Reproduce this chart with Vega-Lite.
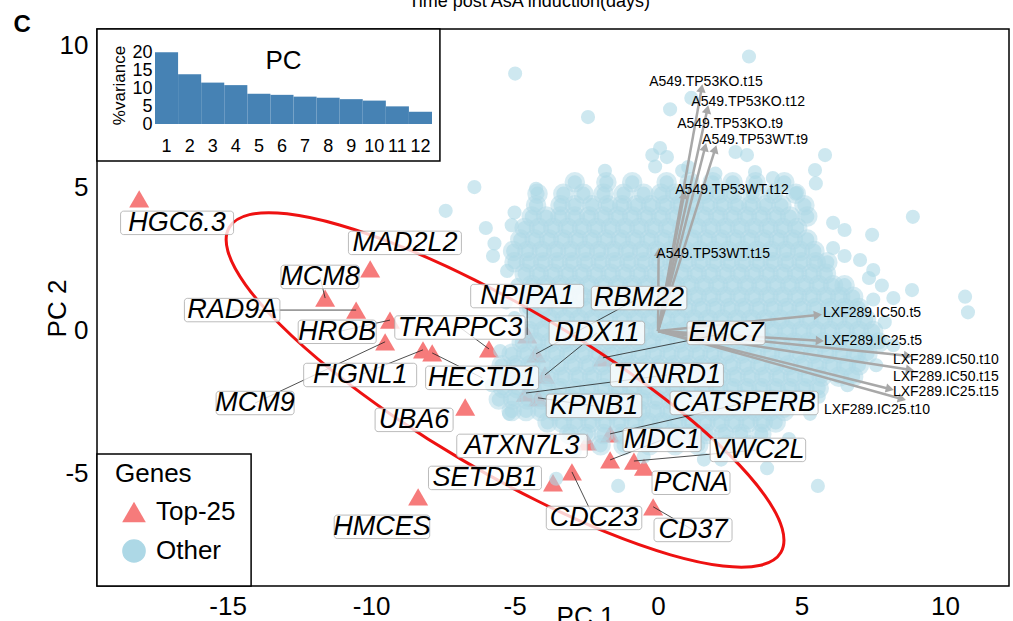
{
"$schema":"https://vega.github.io/schema/vega-lite/v6.json",
"width":912,"height":557,
"autosize":{"type":"none"},
"padding":{"left":97,"top":29,"right":4,"bottom":35},
"background":"white",
"config":{"font":"Liberation Sans","view":{"stroke":"black","strokeWidth":1.5},"axis":{"grid":false,"labelColor":"black","titleColor":"black","titleFontWeight":"normal"}},
"datasets":{
"genes":[
{"gene":"HGC6.3","group":"Top-25","x":-18.08,"y":4.62,"lx":-16.76,"ly":3.78},
{"gene":"MAD2L2","group":"Top-25","x":-10.03,"y":2.17,"lx":-8.82,"ly":3.08},
{"gene":"MCM8","group":"Top-25","x":-11.6,"y":1.15,"lx":-11.78,"ly":1.89},
{"gene":"RAD9A","group":"Top-25","x":-10.52,"y":0.73,"lx":-14.84,"ly":0.73},
{"gene":"HROB","group":"Top-25","x":-9.34,"y":0.38,"lx":-11.18,"ly":-0.03},
{"gene":"MCM9","group":"Top-25","x":-9.51,"y":-0.38,"lx":-14.04,"ly":-2.52},
{"gene":"FIGNL1","group":"Top-25","x":-8.19,"y":-0.66,"lx":-10.38,"ly":-1.54},
{"gene":"HECTD1","group":"Top-25","x":-7.87,"y":-0.77,"lx":-6.13,"ly":-1.64},
{"gene":"TRAPPC3","group":"Top-25","x":-5.89,"y":-0.63,"lx":-6.9,"ly":0.12},
{"gene":"NPIPA1","group":"Top-25","x":-4.56,"y":-0.14,"lx":-4.56,"ly":1.22},
{"gene":"UBA6","group":"Top-25","x":-6.72,"y":-2.66,"lx":-8.5,"ly":-3.11},
{"gene":"EMC7","group":"Top-25","x":-1.92,"y":-0.94,"lx":2.37,"ly":-0.07},
{"gene":"TXNRD1","group":"Top-25","x":-4.6,"y":-2.17,"lx":0.31,"ly":-1.54},
{"gene":"KPNB1","group":"Top-25","x":-4.18,"y":-2.34,"lx":-2.23,"ly":-2.62},
{"gene":"RBM22","group":"Top-25","x":-4.25,"y":-0.8,"lx":-0.66,"ly":1.15},
{"gene":"DDX11","group":"Top-25","x":-3.94,"y":-1.54,"lx":-2.13,"ly":-0.07},
{"gene":"CATSPERB","group":"Top-25","x":-1.67,"y":-3.6,"lx":3.0,"ly":-2.52},
{"gene":"MDC1","group":"Top-25","x":-1.67,"y":-4.51,"lx":0.14,"ly":-3.81},
{"gene":"ATXN7L3","group":"Top-25","x":-2.47,"y":-3.88,"lx":-4.74,"ly":-4.02},
{"gene":"VWC2L","group":"Top-25","x":-0.84,"y":-4.55,"lx":3.48,"ly":-4.16},
{"gene":"PCNA","group":"Top-25","x":-0.49,"y":-4.76,"lx":1.15,"ly":-5.31},
{"gene":"CDC23","group":"Top-25","x":-3.0,"y":-4.93,"lx":-2.23,"ly":-6.54},
{"gene":"SETDB1","group":"Top-25","x":-3.66,"y":-5.31,"lx":-6.03,"ly":-5.14},
{"gene":"CD37","group":"Top-25","x":-0.17,"y":-6.15,"lx":1.22,"ly":-6.96},
{"gene":"HMCES","group":"Top-25","x":-8.36,"y":-5.8,"lx":-9.62,"ly":-6.85}
],
"arrows":[
{"v":"A549.TP53KO.t15","x":1.52,"y":8.49,"lx":1.67,"ly":8.71},
{"v":"A549.TP53KO.t12","x":1.72,"y":7.75,"lx":3.14,"ly":8.01},
{"v":"A549.TP53KO.t9","x":1.64,"y":6.43,"lx":2.51,"ly":7.24},
{"v":"A549.TP53WT.t9","x":1.99,"y":6.36,"lx":3.38,"ly":6.68},
{"v":"A549.TP53WT.t12","x":0.91,"y":4.76,"lx":2.58,"ly":4.93},
{"v":"A549.TP53WT.t15","x":0.02,"y":2.76,"lx":1.92,"ly":2.69},
{"v":"LXF289.IC50.t5","x":5.57,"y":0.56,"lx":7.46,"ly":0.63},
{"v":"LXF289.IC25.t5","x":5.64,"y":-0.34,"lx":7.49,"ly":-0.35},
{"v":"LXF289.IC50.t10","x":8.71,"y":-0.87,"lx":10.03,"ly":-1.01},
{"v":"LXF289.IC50.t15","x":8.78,"y":-1.36,"lx":10.03,"ly":-1.61},
{"v":"LXF289.IC25.t15","x":8.08,"y":-2.03,"lx":10.03,"ly":-2.13},
{"v":"LXF289.IC25.t10","x":8.5,"y":-2.38,"lx":7.63,"ly":-2.76}
],
"ellipse":[
{"t":0,"x":4.279,"y":-7.748},{"t":15,"x":3.575,"y":-8.194},{"t":30,"x":2.264,"y":-8.222},{"t":45,"x":0.437,"y":-7.831},
{"t":60,"x":-1.784,"y":-7.047},{"t":75,"x":-4.247,"y":-5.922},{"t":90,"x":-6.784,"y":-4.535},{"t":105,"x":-9.221,"y":-2.98},
{"t":120,"x":-11.394,"y":-1.361},{"t":135,"x":-13.153,"y":0.209},{"t":150,"x":-14.38,"y":1.624},{"t":165,"x":-14.989,"y":2.788},
{"t":180,"x":-14.941,"y":3.622},{"t":195,"x":-14.237,"y":4.068},{"t":210,"x":-12.926,"y":4.096},{"t":225,"x":-11.099,"y":3.705},
{"t":240,"x":-8.878,"y":2.921},{"t":255,"x":-6.415,"y":1.796},{"t":270,"x":-3.878,"y":0.409},{"t":285,"x":-1.441,"y":-1.146},
{"t":300,"x":0.732,"y":-2.765},{"t":315,"x":2.491,"y":-4.335},{"t":330,"x":3.718,"y":-5.75},{"t":345,"x":4.327,"y":-6.914}
],
"scree":[
{"pc":1,"var":19.9},{"pc":2,"var":13.8},{"pc":3,"var":11.5},{"pc":4,"var":10.8},{"pc":5,"var":8.4},{"pc":6,"var":8.1},
{"pc":7,"var":7.6},{"pc":8,"var":7.3},{"pc":9,"var":6.9},{"pc":10,"var":6.5},{"pc":11,"var":4.9},{"pc":12,"var":3.4}
],
"outer":[
{"x":3.17,"y":9.6},{"x":-4.98,"y":9.0},{"x":-2.44,"y":7.48},{"x":0.42,"y":7.75},{"x":1.16,"y":8.15},{"x":-0.2,"y":6.15},{"x":0.07,"y":6.4},{"x":0.31,"y":6.08},{"x":-0.1,"y":5.75},{"x":1.05,"y":5.73},{"x":3.1,"y":6.15},{"x":3.38,"y":5.56},{"x":4.0,"y":5.35},{"x":5.47,"y":5.63},{"x":5.82,"y":6.15},{"x":2.0,"y":5.5},{"x":2.7,"y":6.26},{"x":0.84,"y":5.6},{"x":-1.85,"y":5.6},{"x":-6.4,"y":5.03},{"x":4.84,"y":4.83},{"x":5.5,"y":5.16},{"x":6.1,"y":3.78},{"x":6.5,"y":3.53},{"x":7.46,"y":3.36},{"x":8.88,"y":3.99},{"x":6.1,"y":2.9},{"x":6.5,"y":2.62},{"x":7.04,"y":2.48},{"x":7.5,"y":2.13},{"x":7.35,"y":1.85},{"x":7.8,"y":1.59},{"x":7.5,"y":1.1},{"x":8.2,"y":1.15},{"x":8.85,"y":1.43},{"x":10.7,"y":1.2},{"x":10.8,"y":0.65},{"x":7.9,"y":0.3},{"x":8.2,"y":-0.5},{"x":7.6,"y":-1.2},{"x":6.6,"y":-1.9},{"x":5.6,"y":-2.3},{"x":5.3,"y":-2.9},{"x":4.56,"y":-3.78},{"x":5.57,"y":-5.42},{"x":3.8,"y":-4.8},{"x":4.2,"y":-4.2},{"x":-1.39,"y":-5.42},{"x":-3.55,"y":-5.17},{"x":-5.19,"y":-2.9},{"x":-7.4,"y":4.2},{"x":-5.0,"y":4.14},{"x":-5.7,"y":3.06},{"x":-5.75,"y":2.62},{"x":-5.26,"y":2.1},{"x":-4.9,"y":1.6},{"x":-5.3,"y":1.0},{"x":-5.0,"y":0.45},{"x":-6.0,"y":3.6},{"x":-5.1,"y":3.7},{"x":-4.25,"y":4.97},{"x":1.6,"y":-4.5},{"x":-0.5,"y":-4.4},{"x":2.2,"y":-4.5},{"x":2.9,"y":-4.1},{"x":-2.9,"y":-4.2},{"x":-5.8,"y":-1.9},{"x":-5.5,"y":-0.7}
],
"core":[
{"x":-2.9,"y":5.2},{"x":-1.8,"y":5.2},{"x":-0.9,"y":5.2},{"x":0.3,"y":5.2},{"x":1.1,"y":5.2},{"x":1.9,"y":5.2},{"x":2.6,"y":5.2},{"x":3.4,"y":5.2},{"x":4.4,"y":5.2},
{"x":-4.2,"y":4.8},{"x":-3.3,"y":4.8},{"x":-2.6,"y":4.8},{"x":-1.9,"y":4.8},{"x":-1.2,"y":4.8},{"x":-0.5,"y":4.8},{"x":0.1,"y":4.8},{"x":0.6,"y":4.8},{"x":1.1,"y":4.8},{"x":1.6,"y":4.8},{"x":2.1,"y":4.8},{"x":2.6,"y":4.8},{"x":3.3,"y":4.8},{"x":4.0,"y":4.8},{"x":4.8,"y":4.8},
{"x":-4.25,"y":4.4},{"x":-3.4,"y":4.4},{"x":-2.9,"y":4.4},{"x":-2.3,"y":4.4},{"x":-1.75,"y":4.4},{"x":-1.25,"y":4.4},{"x":-0.75,"y":4.4},{"x":-0.25,"y":4.4},{"x":0.25,"y":4.4},{"x":0.75,"y":4.4},{"x":1.25,"y":4.4},{"x":1.75,"y":4.4},{"x":2.25,"y":4.4},{"x":2.75,"y":4.4},{"x":3.25,"y":4.4},{"x":3.75,"y":4.4},{"x":4.3,"y":4.4},{"x":5.1,"y":4.4},
{"x":-4.4,"y":4.0},{"x":-3.9,"y":4.0},{"x":-3.4,"y":4.0},{"x":-2.9,"y":4.0},{"x":-2.4,"y":4.0},{"x":-1.9,"y":4.0},{"x":-1.4,"y":4.0},{"x":-0.9,"y":4.0},{"x":-0.4,"y":4.0},{"x":0.1,"y":4.0},{"x":0.6,"y":4.0},{"x":1.1,"y":4.0},{"x":1.6,"y":4.0},{"x":2.1,"y":4.0},{"x":2.6,"y":4.0},{"x":3.1,"y":4.0},{"x":3.6,"y":4.0},{"x":4.1,"y":4.0},{"x":4.6,"y":4.0},{"x":5.2,"y":4.0},
{"x":-4.65,"y":3.6},{"x":-4.15,"y":3.6},{"x":-3.65,"y":3.6},{"x":-3.15,"y":3.6},{"x":-2.65,"y":3.6},{"x":-2.15,"y":3.6},{"x":-1.65,"y":3.6},{"x":-1.15,"y":3.6},{"x":-0.65,"y":3.6},{"x":-0.15,"y":3.6},{"x":0.35,"y":3.6},{"x":0.85,"y":3.6},{"x":1.35,"y":3.6},{"x":1.85,"y":3.6},{"x":2.35,"y":3.6},{"x":2.85,"y":3.6},{"x":3.35,"y":3.6},{"x":3.85,"y":3.6},{"x":4.35,"y":3.6},{"x":4.85,"y":3.6},
{"x":-4.8,"y":3.2},{"x":-4.3,"y":3.2},{"x":-3.8,"y":3.2},{"x":-3.3,"y":3.2},{"x":-2.8,"y":3.2},{"x":-2.3,"y":3.2},{"x":-1.8,"y":3.2},{"x":-1.3,"y":3.2},{"x":-0.8,"y":3.2},{"x":-0.3,"y":3.2},{"x":0.2,"y":3.2},{"x":0.7,"y":3.2},{"x":1.2,"y":3.2},{"x":1.7,"y":3.2},{"x":2.2,"y":3.2},{"x":2.7,"y":3.2},{"x":3.2,"y":3.2},{"x":3.7,"y":3.2},{"x":4.2,"y":3.2},{"x":4.7,"y":3.2},{"x":5.2,"y":3.2},
{"x":-5.05,"y":2.8},{"x":-4.55,"y":2.8},{"x":-4.05,"y":2.8},{"x":-3.55,"y":2.8},{"x":-3.05,"y":2.8},{"x":-2.55,"y":2.8},{"x":-2.05,"y":2.8},{"x":-1.55,"y":2.8},{"x":-1.05,"y":2.8},{"x":-0.55,"y":2.8},{"x":-0.05,"y":2.8},{"x":0.45,"y":2.8},{"x":0.95,"y":2.8},{"x":1.45,"y":2.8},{"x":1.95,"y":2.8},{"x":2.45,"y":2.8},{"x":2.95,"y":2.8},{"x":3.45,"y":2.8},{"x":3.95,"y":2.8},{"x":4.45,"y":2.8},{"x":4.95,"y":2.8},{"x":5.45,"y":2.8},
{"x":-5.0,"y":2.4},{"x":-4.5,"y":2.4},{"x":-4.0,"y":2.4},{"x":-3.5,"y":2.4},{"x":-3.0,"y":2.4},{"x":-2.5,"y":2.4},{"x":-2.0,"y":2.4},{"x":-1.5,"y":2.4},{"x":-1.0,"y":2.4},{"x":-0.5,"y":2.4},{"x":0.0,"y":2.4},{"x":0.5,"y":2.4},{"x":1.0,"y":2.4},{"x":1.5,"y":2.4},{"x":2.0,"y":2.4},{"x":2.5,"y":2.4},{"x":3.0,"y":2.4},{"x":3.5,"y":2.4},{"x":4.0,"y":2.4},{"x":4.5,"y":2.4},{"x":5.0,"y":2.4},{"x":5.5,"y":2.4},{"x":5.9,"y":2.4},
{"x":-4.65,"y":2.0},{"x":-4.15,"y":2.0},{"x":-3.65,"y":2.0},{"x":-3.15,"y":2.0},{"x":-2.65,"y":2.0},{"x":-2.15,"y":2.0},{"x":-1.65,"y":2.0},{"x":-1.15,"y":2.0},{"x":-0.65,"y":2.0},{"x":-0.15,"y":2.0},{"x":0.35,"y":2.0},{"x":0.85,"y":2.0},{"x":1.35,"y":2.0},{"x":1.85,"y":2.0},{"x":2.35,"y":2.0},{"x":2.85,"y":2.0},{"x":3.35,"y":2.0},{"x":3.85,"y":2.0},{"x":4.35,"y":2.0},{"x":4.85,"y":2.0},{"x":5.35,"y":2.0},{"x":5.85,"y":2.0},
{"x":-4.4,"y":1.6},{"x":-3.9,"y":1.6},{"x":-3.4,"y":1.6},{"x":-2.9,"y":1.6},{"x":-2.4,"y":1.6},{"x":-1.9,"y":1.6},{"x":-1.4,"y":1.6},{"x":-0.9,"y":1.6},{"x":-0.4,"y":1.6},{"x":0.1,"y":1.6},{"x":0.6,"y":1.6},{"x":1.1,"y":1.6},{"x":1.6,"y":1.6},{"x":2.1,"y":1.6},{"x":2.6,"y":1.6},{"x":3.1,"y":1.6},{"x":3.6,"y":1.6},{"x":4.1,"y":1.6},{"x":4.6,"y":1.6},{"x":5.1,"y":1.6},{"x":5.6,"y":1.6},{"x":6.1,"y":1.6},{"x":6.5,"y":1.6},
{"x":-4.65,"y":1.2},{"x":-4.15,"y":1.2},{"x":-3.65,"y":1.2},{"x":-3.15,"y":1.2},{"x":-2.65,"y":1.2},{"x":-2.15,"y":1.2},{"x":-1.65,"y":1.2},{"x":-1.15,"y":1.2},{"x":-0.65,"y":1.2},{"x":-0.15,"y":1.2},{"x":0.35,"y":1.2},{"x":0.85,"y":1.2},{"x":1.35,"y":1.2},{"x":1.85,"y":1.2},{"x":2.35,"y":1.2},{"x":2.85,"y":1.2},{"x":3.35,"y":1.2},{"x":3.85,"y":1.2},{"x":4.35,"y":1.2},{"x":4.85,"y":1.2},{"x":5.35,"y":1.2},{"x":5.85,"y":1.2},{"x":6.35,"y":1.2},{"x":6.8,"y":1.2},
{"x":-4.5,"y":0.8},{"x":-4.0,"y":0.8},{"x":-3.5,"y":0.8},{"x":-3.0,"y":0.8},{"x":-2.5,"y":0.8},{"x":-2.0,"y":0.8},{"x":-1.5,"y":0.8},{"x":-1.0,"y":0.8},{"x":-0.5,"y":0.8},{"x":0.0,"y":0.8},{"x":0.5,"y":0.8},{"x":1.0,"y":0.8},{"x":1.5,"y":0.8},{"x":2.0,"y":0.8},{"x":2.5,"y":0.8},{"x":3.0,"y":0.8},{"x":3.5,"y":0.8},{"x":4.0,"y":0.8},{"x":4.5,"y":0.8},{"x":5.0,"y":0.8},{"x":5.5,"y":0.8},{"x":6.0,"y":0.8},{"x":6.5,"y":0.8},{"x":7.0,"y":0.8},
{"x":-4.25,"y":0.4},{"x":-3.75,"y":0.4},{"x":-3.25,"y":0.4},{"x":-2.75,"y":0.4},{"x":-2.25,"y":0.4},{"x":-1.75,"y":0.4},{"x":-1.25,"y":0.4},{"x":-0.75,"y":0.4},{"x":-0.25,"y":0.4},{"x":0.25,"y":0.4},{"x":0.75,"y":0.4},{"x":1.25,"y":0.4},{"x":1.75,"y":0.4},{"x":2.25,"y":0.4},{"x":2.75,"y":0.4},{"x":3.25,"y":0.4},{"x":3.75,"y":0.4},{"x":4.25,"y":0.4},{"x":4.75,"y":0.4},{"x":5.25,"y":0.4},{"x":5.75,"y":0.4},{"x":6.25,"y":0.4},{"x":6.75,"y":0.4},{"x":7.25,"y":0.4},
{"x":-4.5,"y":0.0},{"x":-4.0,"y":0.0},{"x":-3.5,"y":0.0},{"x":-3.0,"y":0.0},{"x":-2.5,"y":0.0},{"x":-2.0,"y":0.0},{"x":-1.5,"y":0.0},{"x":-1.0,"y":0.0},{"x":-0.5,"y":0.0},{"x":0.0,"y":0.0},{"x":0.5,"y":0.0},{"x":1.0,"y":0.0},{"x":1.5,"y":0.0},{"x":2.0,"y":0.0},{"x":2.5,"y":0.0},{"x":3.0,"y":0.0},{"x":3.5,"y":0.0},{"x":4.0,"y":0.0},{"x":4.5,"y":0.0},{"x":5.0,"y":0.0},{"x":5.5,"y":0.0},{"x":6.0,"y":0.0},{"x":6.5,"y":0.0},{"x":7.0,"y":0.0},{"x":7.5,"y":0.0},
{"x":-4.75,"y":-0.4},{"x":-4.25,"y":-0.4},{"x":-3.75,"y":-0.4},{"x":-3.25,"y":-0.4},{"x":-2.75,"y":-0.4},{"x":-2.25,"y":-0.4},{"x":-1.75,"y":-0.4},{"x":-1.25,"y":-0.4},{"x":-0.75,"y":-0.4},{"x":-0.25,"y":-0.4},{"x":0.25,"y":-0.4},{"x":0.75,"y":-0.4},{"x":1.25,"y":-0.4},{"x":1.75,"y":-0.4},{"x":2.25,"y":-0.4},{"x":2.75,"y":-0.4},{"x":3.25,"y":-0.4},{"x":3.75,"y":-0.4},{"x":4.25,"y":-0.4},{"x":4.75,"y":-0.4},{"x":5.25,"y":-0.4},{"x":5.75,"y":-0.4},{"x":6.25,"y":-0.4},{"x":6.75,"y":-0.4},{"x":7.25,"y":-0.4},{"x":7.7,"y":-0.4},
{"x":-5.1,"y":-0.8},{"x":-4.6,"y":-0.8},{"x":-4.1,"y":-0.8},{"x":-3.6,"y":-0.8},{"x":-3.1,"y":-0.8},{"x":-2.6,"y":-0.8},{"x":-2.1,"y":-0.8},{"x":-1.6,"y":-0.8},{"x":-1.1,"y":-0.8},{"x":-0.6,"y":-0.8},{"x":-0.1,"y":-0.8},{"x":0.4,"y":-0.8},{"x":0.9,"y":-0.8},{"x":1.4,"y":-0.8},{"x":1.9,"y":-0.8},{"x":2.4,"y":-0.8},{"x":2.9,"y":-0.8},{"x":3.4,"y":-0.8},{"x":3.9,"y":-0.8},{"x":4.4,"y":-0.8},{"x":4.9,"y":-0.8},{"x":5.4,"y":-0.8},{"x":5.9,"y":-0.8},{"x":6.4,"y":-0.8},{"x":6.9,"y":-0.8},{"x":7.3,"y":-0.8},
{"x":-5.45,"y":-1.2},{"x":-4.95,"y":-1.2},{"x":-4.45,"y":-1.2},{"x":-3.95,"y":-1.2},{"x":-3.45,"y":-1.2},{"x":-2.95,"y":-1.2},{"x":-2.45,"y":-1.2},{"x":-1.95,"y":-1.2},{"x":-1.45,"y":-1.2},{"x":-0.95,"y":-1.2},{"x":-0.45,"y":-1.2},{"x":0.05,"y":-1.2},{"x":0.55,"y":-1.2},{"x":1.05,"y":-1.2},{"x":1.55,"y":-1.2},{"x":2.05,"y":-1.2},{"x":2.55,"y":-1.2},{"x":3.05,"y":-1.2},{"x":3.55,"y":-1.2},{"x":4.05,"y":-1.2},{"x":4.55,"y":-1.2},{"x":5.05,"y":-1.2},{"x":5.55,"y":-1.2},{"x":6.05,"y":-1.2},{"x":6.55,"y":-1.2},{"x":7.0,"y":-1.2},
{"x":-5.3,"y":-1.6},{"x":-4.8,"y":-1.6},{"x":-4.3,"y":-1.6},{"x":-3.8,"y":-1.6},{"x":-3.3,"y":-1.6},{"x":-2.8,"y":-1.6},{"x":-2.3,"y":-1.6},{"x":-1.8,"y":-1.6},{"x":-1.3,"y":-1.6},{"x":-0.8,"y":-1.6},{"x":-0.3,"y":-1.6},{"x":0.2,"y":-1.6},{"x":0.7,"y":-1.6},{"x":1.2,"y":-1.6},{"x":1.7,"y":-1.6},{"x":2.2,"y":-1.6},{"x":2.7,"y":-1.6},{"x":3.2,"y":-1.6},{"x":3.7,"y":-1.6},{"x":4.2,"y":-1.6},{"x":4.7,"y":-1.6},{"x":5.2,"y":-1.6},{"x":5.7,"y":-1.6},{"x":6.3,"y":-1.6},{"x":6.8,"y":-1.6},
{"x":-5.4,"y":-2.0},{"x":-4.9,"y":-2.0},{"x":-4.4,"y":-2.0},{"x":-3.9,"y":-2.0},{"x":-3.4,"y":-2.0},{"x":-2.9,"y":-2.0},{"x":-2.4,"y":-2.0},{"x":-1.9,"y":-2.0},{"x":-1.4,"y":-2.0},{"x":-0.9,"y":-2.0},{"x":-0.4,"y":-2.0},{"x":0.1,"y":-2.0},{"x":0.6,"y":-2.0},{"x":1.1,"y":-2.0},{"x":1.6,"y":-2.0},{"x":2.1,"y":-2.0},{"x":2.6,"y":-2.0},{"x":3.1,"y":-2.0},{"x":3.6,"y":-2.0},{"x":4.1,"y":-2.0},{"x":4.6,"y":-2.0},{"x":5.1,"y":-2.0},{"x":5.6,"y":-2.0},
{"x":-5.55,"y":-2.4},{"x":-5.05,"y":-2.4},{"x":-4.55,"y":-2.4},{"x":-4.05,"y":-2.4},{"x":-3.55,"y":-2.4},{"x":-3.05,"y":-2.4},{"x":-2.55,"y":-2.4},{"x":-2.05,"y":-2.4},{"x":-1.55,"y":-2.4},{"x":-1.05,"y":-2.4},{"x":-0.55,"y":-2.4},{"x":-0.05,"y":-2.4},{"x":0.45,"y":-2.4},{"x":0.95,"y":-2.4},{"x":1.45,"y":-2.4},{"x":1.95,"y":-2.4},{"x":2.45,"y":-2.4},{"x":2.95,"y":-2.4},{"x":3.45,"y":-2.4},{"x":3.95,"y":-2.4},{"x":4.45,"y":-2.4},{"x":4.95,"y":-2.4},
{"x":-5.1,"y":-2.8},{"x":-4.6,"y":-2.8},{"x":-4.1,"y":-2.8},{"x":-3.6,"y":-2.8},{"x":-3.1,"y":-2.8},{"x":-2.6,"y":-2.8},{"x":-2.1,"y":-2.8},{"x":-1.6,"y":-2.8},{"x":-1.1,"y":-2.8},{"x":-0.6,"y":-2.8},{"x":-0.1,"y":-2.8},{"x":0.4,"y":-2.8},{"x":0.9,"y":-2.8},{"x":1.4,"y":-2.8},{"x":1.9,"y":-2.8},{"x":2.4,"y":-2.8},{"x":2.9,"y":-2.8},{"x":3.4,"y":-2.8},{"x":3.9,"y":-2.8},{"x":4.4,"y":-2.8},
{"x":-3.85,"y":-3.2},{"x":-3.35,"y":-3.2},{"x":-2.85,"y":-3.2},{"x":-2.35,"y":-3.2},{"x":-1.85,"y":-3.2},{"x":-1.35,"y":-3.2},{"x":-0.85,"y":-3.2},{"x":-0.35,"y":-3.2},{"x":0.15,"y":-3.2},{"x":0.65,"y":-3.2},{"x":1.15,"y":-3.2},{"x":1.65,"y":-3.2},{"x":2.15,"y":-3.2},{"x":2.65,"y":-3.2},{"x":3.15,"y":-3.2},{"x":3.65,"y":-3.2},{"x":4.1,"y":-3.2},
{"x":-3.1,"y":-3.6},{"x":-2.5,"y":-3.6},{"x":-1.9,"y":-3.6},{"x":-1.3,"y":-3.6},{"x":-0.7,"y":-3.6},{"x":-0.1,"y":-3.6},{"x":0.5,"y":-3.6},{"x":1.1,"y":-3.6},{"x":1.7,"y":-3.6},{"x":2.3,"y":-3.6},{"x":2.9,"y":-3.6},{"x":3.6,"y":-3.6},
{"x":-2.0,"y":-4.0},{"x":-1.2,"y":-4.0},{"x":-0.3,"y":-4.0},{"x":0.6,"y":-4.0},{"x":1.4,"y":-4.0},{"x":2.4,"y":-4.0},{"x":3.2,"y":-4.0}
]
},
"layer":[
{"layer":[
{"data":{"name":"genes"},
 "mark":{"type":"point","filled":true,"size":400,"opacity":1},
 "encoding":{
  "x":{"field":"x","type":"quantitative","scale":{"domain":[-19.55,12.23],"nice":false,"zero":false},
       "axis":{"orient":"bottom","values":[-15,-10,-5,0,5,10],"labelExpr":"'' + datum.value","labelFontSize":26,"ticks":false,"domain":false,"labelPadding":7,"title":"PC 1","titleFontSize":26,"titleX":488,"titleY":17,"titleBaseline":"top","titleAlign":"center"}},
  "y":{"field":"y","type":"quantitative","scale":{"domain":[-8.92,10.56],"nice":false,"zero":false},
       "axis":{"orient":"left","values":[-5,0,5,10],"labelExpr":"'' + datum.value","labelFontSize":26,"ticks":false,"domain":false,"labelPadding":9,"title":"PC 2","titleFontSize":26,"titleX":-40,"titleY":279,"titleAngle":-90,"titleBaseline":"middle","titleAlign":"center"}},
  "color":{"field":"group","type":"nominal","title":"Genes","scale":{"domain":["Top-25","Other"],"range":["#F67B7B","#ADD8E6"]},
    "legend":{"orient":"none","legendX":18,"legendY":432,"padding":0,"titleFontSize":26,"titleFontWeight":"normal","labelFontSize":26,"symbolSize":560,"titlePadding":12,"rowPadding":13,"labelOffset":9,"symbolOffset":6,"zindex":1,"symbolStrokeWidth":0,"titleColor":"black","labelColor":"black","encode":{"symbols":{"update":{"opacity":{"signal":"datum.value === 'Other' ? 0.6 : 1"}}}}}},
  "shape":{"field":"group","type":"nominal","title":"Genes","scale":{"domain":["Top-25","Other"],"range":["triangle-up","circle"]},
    "legend":{"orient":"none","legendX":18,"legendY":432,"padding":0,"titleFontSize":26,"titleFontWeight":"normal","labelFontSize":26,"symbolSize":560,"titlePadding":12,"rowPadding":13,"labelOffset":9,"symbolOffset":6,"zindex":1,"symbolStrokeWidth":0,"titleColor":"black","labelColor":"black","encode":{"symbols":{"update":{"opacity":{"signal":"datum.value === 'Other' ? 0.6 : 1"}}}}}}
 }},
{"data":{"name":"core"},
 "mark":{"type":"point","filled":true,"shape":"circle","size":420,"opacity":0.5,"color":"#ADD8E6"},
 "encoding":{"x":{"field":"x","type":"quantitative"},"y":{"field":"y","type":"quantitative"}}},
{"data":{"name":"core"},"transform":[{"calculate":"'Other'","as":"group"}],
 "mark":{"type":"point","filled":true,"size":200,"opacity":0.6},
 "encoding":{"x":{"field":"x","type":"quantitative"},"y":{"field":"y","type":"quantitative"},
  "color":{"field":"group","type":"nominal","legend":null},"shape":{"field":"group","type":"nominal","legend":null}}},
{"data":{"name":"outer"},"transform":[{"calculate":"'Other'","as":"group"}],
 "mark":{"type":"point","filled":true,"size":200,"opacity":0.6},
 "encoding":{"x":{"field":"x","type":"quantitative"},"y":{"field":"y","type":"quantitative"},
  "color":{"field":"group","type":"nominal","legend":null},"shape":{"field":"group","type":"nominal","legend":null}}},
{"mark":{"type":"rule","strokeDash":[15,11],"color":"#222222","strokeWidth":1.5},
 "encoding":{"x":{"datum":0,"type":"quantitative"}}},
{"mark":{"type":"rule","strokeDash":[15,11],"color":"#222222","strokeWidth":1.5},
 "encoding":{"y":{"datum":0,"type":"quantitative"}}},
{"data":{"name":"ellipse"},
 "mark":{"type":"line","color":"#EE1111","strokeWidth":3,"interpolate":"cardinal-closed"},
 "encoding":{"x":{"field":"x","type":"quantitative"},"y":{"field":"y","type":"quantitative"},"order":{"field":"t","type":"quantitative"}}},
{"data":{"name":"arrows"},"transform":[{"calculate":"0","as":"o"}],
 "mark":{"type":"rule","color":"#A8A8A8","strokeWidth":2.5},
 "encoding":{"x":{"field":"o","type":"quantitative"},"y":{"field":"o","type":"quantitative"},"x2":{"field":"x"},"y2":{"field":"y"}}},
{"data":{"name":"arrows"},"transform":[{"calculate":"atan2(datum.x, datum.y) * 180 / PI","as":"ang"}],
 "mark":{"type":"point","shape":"triangle-up","filled":true,"size":90,"color":"#A8A8A8","opacity":1},
 "encoding":{"x":{"field":"x","type":"quantitative"},"y":{"field":"y","type":"quantitative"},"angle":{"field":"ang","type":"quantitative","scale":null}}},
{"data":{"name":"arrows"},
 "mark":{"type":"text","fontSize":14,"color":"black","align":"center","baseline":"middle"},
 "encoding":{"x":{"field":"lx","type":"quantitative"},"y":{"field":"ly","type":"quantitative"},"text":{"field":"v","type":"nominal"}}},
{"data":{"name":"genes"},"transform":[{"filter":"indexof(['HGC6.3','MAD2L2','UBA6','ATXN7L3','SETDB1','HMCES','PCNA'], datum.gene) < 0"}],
 "mark":{"type":"rule","color":"#222222","strokeWidth":0.8},
 "encoding":{"x":{"field":"lx","type":"quantitative"},"y":{"field":"ly","type":"quantitative"},"x2":{"field":"x"},"y2":{"field":"y"}}},
{"data":{"name":"genes"},"transform":[
   {"calculate":"(length(datum.gene) * 17.5 + 8) / 28.7 / 2","as":"hw"},
   {"calculate":"datum.lx - datum.hw","as":"bx1"},{"calculate":"datum.lx + datum.hw","as":"bx2"},
   {"calculate":"datum.ly - 0.41","as":"by1"},{"calculate":"datum.ly + 0.41","as":"by2"}],
 "mark":{"type":"rect","fill":"white","fillOpacity":0.8,"stroke":"#AAAAAA","strokeWidth":0.8,"cornerRadius":3},
 "encoding":{"x":{"field":"bx1","type":"quantitative"},"x2":{"field":"bx2"},"y":{"field":"by1","type":"quantitative"},"y2":{"field":"by2"}}},
{"data":{"name":"genes"},
 "mark":{"type":"text","fontSize":27,"fontStyle":"italic","color":"black","align":"center","baseline":"middle"},
 "encoding":{"x":{"field":"lx","type":"quantitative"},"y":{"field":"ly","type":"quantitative"},"text":{"field":"gene","type":"nominal"}}},
{"data":{"values":[{"x1":-19.55,"x2":-7.6,"y1":5.94,"y2":10.56},{"x1":-19.55,"x2":-14.18,"y1":-8.92,"y2":-4.3}]},
 "mark":{"type":"rect","fill":"white","stroke":"black","strokeWidth":1.5},
 "encoding":{"x":{"field":"x1","type":"quantitative"},"x2":{"field":"x2"},"y":{"field":"y1","type":"quantitative"},"y2":{"field":"y2"}}},
{"data":{"values":[{"t":"C","x":-22.16,"y":10.7}]},
 "mark":{"type":"text","fontSize":24,"fontWeight":"bold","color":"black","align":"center","baseline":"middle"},
 "encoding":{"x":{"field":"x","type":"quantitative"},"y":{"field":"y","type":"quantitative"},"text":{"field":"t","type":"nominal"}}},
{"data":{"values":[{"t":"Time post AsA induction(days)","x":-4.49,"y":11.33}]},
 "mark":{"type":"text","fontSize":18,"color":"black","align":"center","baseline":"alphabetic"},
 "encoding":{"x":{"field":"x","type":"quantitative"},"y":{"field":"y","type":"quantitative"},"text":{"field":"t","type":"nominal"}}}
]},
{"data":{"name":"scree"},
 "mark":{"type":"bar","color":"#4682B4"},
 "encoding":{
  "x":{"field":"pc","type":"ordinal","scale":{"range":[58,335],"paddingInner":0,"paddingOuter":0},
       "axis":{"orient":"bottom","offset":-462,"labelAngle":0,"labelFontSize":18,"ticks":false,"domain":false,"labelPadding":13,"labelOverlap":false,"title":"PC","titleFontSize":26,"titleX":186,"titleY":-64,"titleBaseline":"middle","titleAlign":"center","zindex":1}},
  "y":{"field":"var","type":"quantitative","scale":{"domain":[0,20],"range":[95,23],"nice":false},
       "axis":{"orient":"left","offset":-58,"values":[0,5,10,15,20],"labelFontSize":18,"labelOverlap":false,"ticks":false,"domain":false,"labelPadding":3,"title":"%variance","titleFontSize":17,"titleX":-36,"titleY":56,"titleAngle":-90,"titleBaseline":"middle","titleAlign":"center","zindex":1,"grid":false}}
 }}
],
"resolve":{"scale":{"x":"independent","y":"independent"},"axis":{"x":"independent","y":"independent"}}
}
